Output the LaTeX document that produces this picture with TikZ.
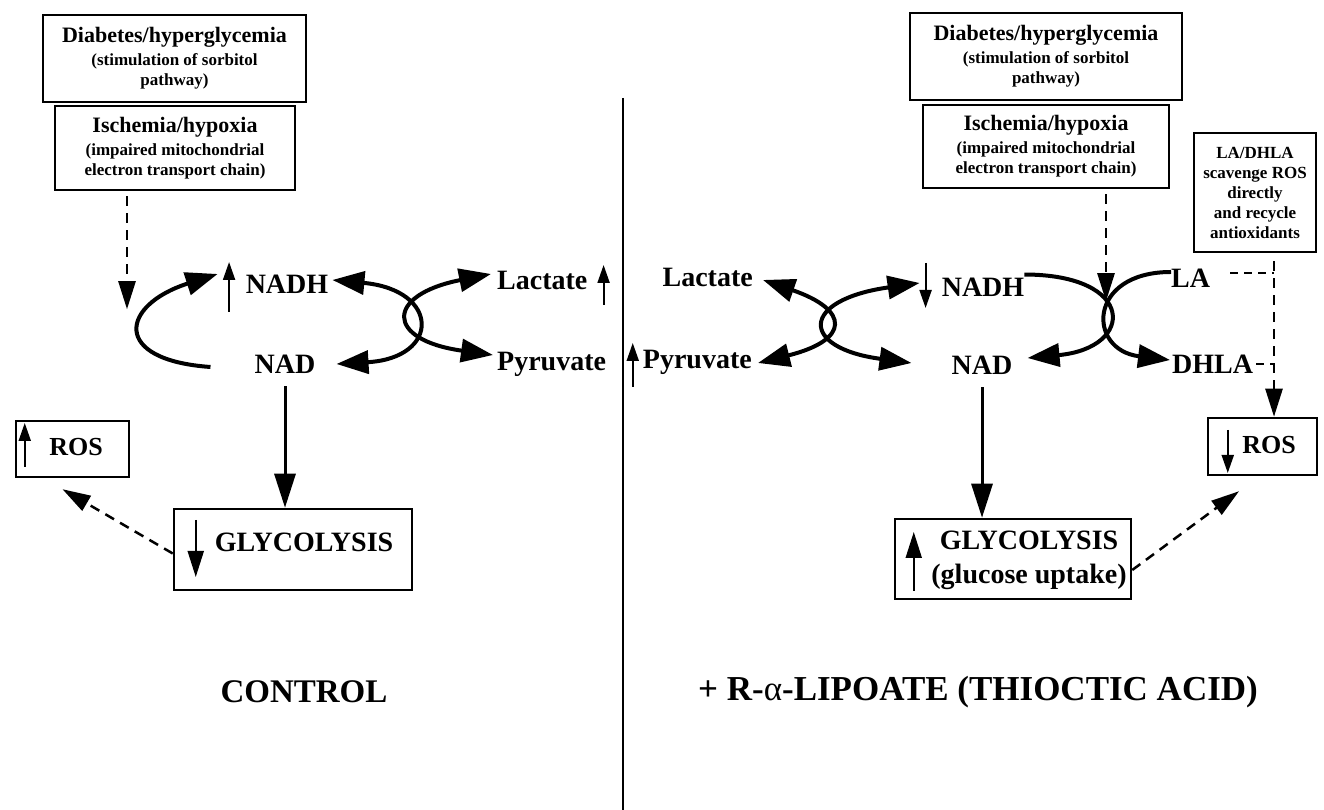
\documentclass[tikz,border=0pt]{standalone}
\usepackage{fontspec}
\setmainfont{Liberation Serif}
\usetikzlibrary{arrows.meta}
\newcommand{\fsz}[2]{\fontsize{#1}{#2}\selectfont}

\begin{document}
\begin{tikzpicture}[x=1pt,y=1pt,
  every node/.style={font=\bfseries},
  bx/.style={draw,line width=2.5pt,align=center,inner sep=0pt,font=\bfseries\fsz{17}{20}},
  lbl/.style={font=\bfseries\fsz{28}{30},inner sep=0pt},
  cyc/.style={line width=4pt,{Triangle[length=32pt,width=23pt]}-{Triangle[length=32pt,width=23pt]}},
  cycend/.style={line width=4pt,-{Triangle[length=32pt,width=23pt]}},
  main/.style={line width=3pt,-{Triangle[length=34pt,width=21pt]}},
  dsh/.style={line width=2.5pt,dash pattern=on 10pt off 7pt,-{Triangle[length=28pt,width=17pt]}},
  dshline/.style={line width=2.5pt,dash pattern=on 8pt off 6pt},
  ind/.style={line width=2pt,-{Triangle[length=18pt,width=12pt]}},
  bigind/.style={line width=2pt,-{Triangle[length=26pt,width=16pt]}}]
\useasboundingbox (0,0) rectangle (1324,810);

\node[bx,minimum width=263pt,minimum height=87pt] (diaL) at (174.5,751.5) {{\fsz{22}{26}Diabetes/hyperglycemia}\\[3pt](stimulation of sorbitol\\pathway)};
\node[bx,minimum width=240pt,minimum height=84pt] (iscL) at (175,662) {{\fsz{22}{26}Ischemia/hypoxia}\\[3pt](impaired mitochondrial\\electron transport chain)};
\node[lbl] (nadhL) at (287,526) {NADH};
\node[lbl] (nadL) at (285,446) {NAD};
\node[lbl,anchor=west] (lacL) at (497,530) {Lactate};
\node[lbl,anchor=west] (pyrL) at (497,446) {Pyruvate};
\node[bx,minimum width=113pt,minimum height=56pt] (rosL) at (72.5,361) {};
\node[lbl,font=\bfseries\fsz{26}{28}] (rosLt) at (76,363) {ROS};
\node[bx,minimum width=238pt,minimum height=81pt] (glyL) at (293,260.5) {};
\node[lbl] (glyLt) at (304,268) {GLYCOLYSIS};
\node[font=\bfseries\fsz{33}{36}] (ctrl) at (304,118) {CONTROL};

\draw[dsh] ([xshift=-48pt,yshift=-5pt]iscL.south) -- ++(0,-113);
\draw[cycend] ([xshift=-44pt,yshift=-3pt]nadL.west) .. controls +(-100,7) and +(-97,-31) .. ([xshift=-28pt,yshift=10pt]nadhL.west);
\draw[cyc] ([xshift=4pt,yshift=4pt]nadhL.east) .. controls +(108,-10) and +(104,6) .. ([xshift=21pt]nadL.east);
\draw[cyc] ([xshift=-6pt,yshift=6pt]lacL.west) .. controls +(-106,-21) and +(-108,15) .. ([xshift=-4pt,yshift=9pt]pyrL.west);
\draw[ind] ([xshift=-16.5pt,yshift=-28pt]nadhL.west) -- ++(0,50);
\draw[ind] ([xshift=16pt,yshift=-25pt]lacL.east) -- ++(0,40);
\draw[main] ([yshift=-13pt]nadL.south) -- (nadL.south |- glyL.north);
\draw[dsh] ([yshift=-4pt]glyL.west) -- ([xshift=-10pt,yshift=-11pt]rosL.south);
\draw[ind] ([xshift=10pt,yshift=-18pt]rosL.west) -- ++(0,44);
\draw[bigind] ([xshift=23pt,yshift=29.5pt]glyL.west) -- ++(0,-57);

\draw[line width=2.5pt] (623,712) -- (623,0);

\node[bx,minimum width=272pt,minimum height=87pt] (diaR) at (1046,753.5) {{\fsz{22}{26}Diabetes/hyperglycemia}\\[3pt](stimulation of sorbitol\\pathway)};
\node[bx,minimum width=246pt,minimum height=83pt] (iscR) at (1046,663.5) {{\fsz{22}{26}Ischemia/hypoxia}\\[3pt](impaired mitochondrial\\electron transport chain)};
\node[bx,minimum width=122pt,minimum height=119pt] (ladhla) at (1255,617.5) {LA/DHLA\\scavenge ROS\\directly\\and recycle\\antioxidants};
\node[lbl,anchor=east] (lacR) at (753,533) {Lactate};
\node[lbl,anchor=east] (pyrR) at (752,448) {Pyruvate};
\node[lbl] (nadhR) at (983,523) {NADH};
\node[lbl] (nadR) at (982,445) {NAD};
\node[lbl,anchor=west] (la) at (1171,532) {LA};
\node[lbl,anchor=west] (dhla) at (1172,446) {DHLA};
\node[bx,minimum width=109pt,minimum height=57pt] (rosR) at (1262.5,363.5) {};
\node[lbl,font=\bfseries\fsz{26}{28}] (rosRt) at (1269,365) {ROS};
\node[bx,minimum width=236pt,minimum height=80pt] (glyR) at (1013,251) {};
\node[lbl,align=center,font=\bfseries\fsz{28}{34}] (glyRt) at (1029,250) {GLYCOLYSIS\\(glucose uptake)};
\node[font=\bfseries\fsz{35}{38}] (lipo) at (978,118) {+ R-{\mdseries α}-LIPOATE (THIOCTIC ACID)};
\coordinate (vbar) at (1274,0);

\draw[dsh] ([xshift=60pt,yshift=-5pt]iscR.south) -- ++(0,-107);
\draw[cyc] ([xshift=10pt,yshift=-3pt]lacR.east) .. controls +(87,-30) and +(92,23) .. ([xshift=6pt,yshift=-1pt]pyrR.east);
\draw[cyc] ([xshift=-22pt,yshift=4pt]nadhR.west) .. controls +(-120,-17) and +(-112,15) .. ([xshift=-40pt,yshift=2pt]nadR.west);
\draw[cycend] ([yshift=3pt]nadhR.north east) .. controls +(112,0) and +(108,10) .. ([xshift=15pt,yshift=7pt]nadR.east);
\draw[cycend] ([yshift=6pt]la.west) .. controls +(-84,0) and +(-83,10) .. ([xshift=-2pt,yshift=4pt]dhla.west);
\draw[ind] ([xshift=-10pt,yshift=-25pt]pyrR.west) -- ++(0,44);
\draw[ind] ([xshift=-16pt,yshift=24pt]nadhR.west) -- ++(0,-45);
\draw[dshline] ([xshift=20pt,yshift=5pt]la.east) -- ([yshift=5pt]la.east -| vbar);
\draw[dshline] ([xshift=3pt]dhla.east) -- (dhla.east -| vbar);
\draw[dsh] ([yshift=-8pt]ladhla.south -| vbar) -- (rosR.north -| vbar);
\draw[main] ([yshift=-13pt]nadR.south) -- (nadR.south |- glyR.north);
\draw[dsh] ([yshift=-11pt]glyR.east) -- ([xshift=-23.5pt,yshift=-15pt]rosR.south);
\draw[ind] ([xshift=21pt,yshift=16.5pt]rosR.west) -- ++(0,-43);
\draw[bigind] ([xshift=20pt,yshift=-32pt]glyR.west) -- ++(0,59);
\end{tikzpicture}
\end{document}
